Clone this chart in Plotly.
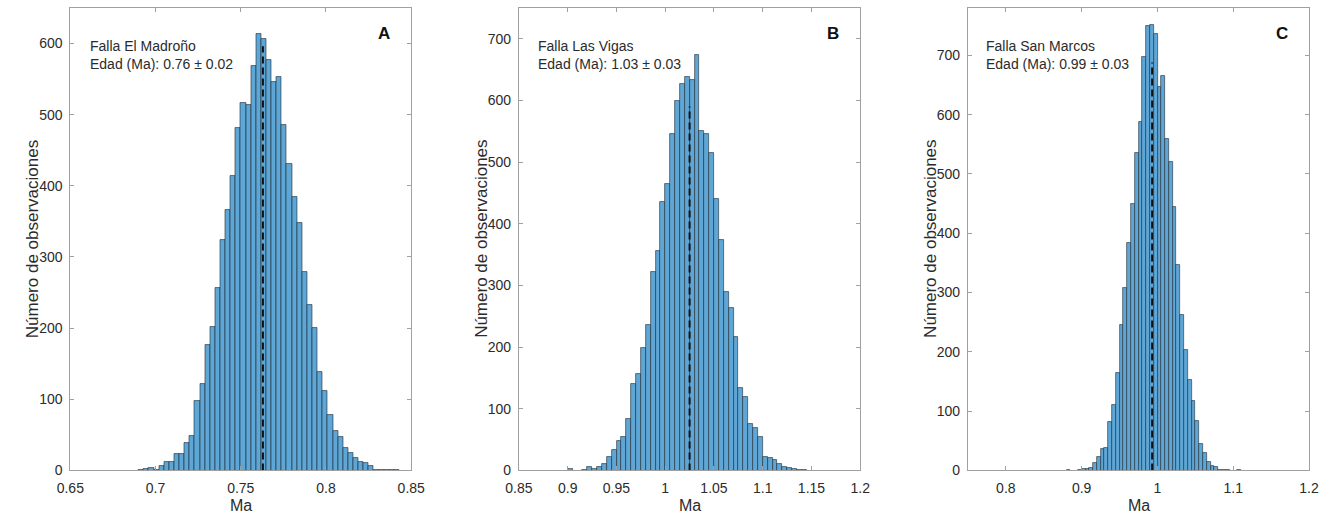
import plotly.graph_objects as go

W, H = 1340, 522

# ---------------- data ----------------
panel_letters = ["A", "B", "C"]
fault_names = ["Falla El Madroño", "Falla Las Vigas", "Falla San Marcos"]
age_labels = ["Edad (Ma): 0.76 ± 0.02", "Edad (Ma): 1.03 ± 0.03", "Edad (Ma): 0.99 ± 0.03"]

a_bin_start = 0.690
a_bin_width = 0.003
a_counts = [1, 2, 3, 1, 6, 12, 12, 23, 23, 39, 49, 97, 121, 176, 201, 257, 324, 366, 414,
            482, 517, 513, 569, 614, 607, 577, 546, 553, 486, 431, 385, 348, 279, 233, 200,
            138, 112, 78, 56, 47, 31, 25, 17, 12, 11, 6, 1, 1, 1, 1, 1]
a_median = 0.763
a_line_top = 596

b_bin_start = 0.900
b_bin_width = 0.005
b_counts = [2, 0, 0, 1, 5, 3, 6, 10, 22, 34, 48, 54, 84, 140, 157, 198, 236, 322, 356, 435,
            464, 545, 600, 626, 638, 633, 674, 550, 545, 515, 441, 374, 290, 263, 216, 133,
            119, 76, 69, 54, 22, 21, 17, 11, 5, 4, 3, 1, 1]
b_median = 1.025
b_line_top = 590

c_bin_start = 0.880
c_bin_width = 0.005
c_counts = [1, 0, 0, 1, 2, 3, 4, 13, 22, 36, 38, 81, 110, 164, 245, 307, 383, 450, 535, 587,
            697, 750, 751, 737, 647, 666, 559, 520, 445, 346, 262, 203, 152, 117, 83, 45, 30,
            15, 8, 6, 1, 1, 1, 0, 0, 1]
c_median = 0.993
c_line_top = 688

x_ranges = [[0.65, 0.85], [0.85, 1.2], [0.75, 1.2]]
y_ranges = [[0, 650], [0, 750], [0, 780]]
x_tickvals = [[0.65, 0.7, 0.75, 0.8, 0.85],
              [0.85, 0.9, 0.95, 1.0, 1.05, 1.1, 1.15, 1.2],
              [0.8, 0.9, 1.0, 1.1, 1.2]]
x_ticktext = [["0.65", "0.7", "0.75", "0.8", "0.85"],
              ["0.85", "0.9", "0.95", "1", "1.05", "1.1", "1.15", "1.2"],
              ["0.8", "0.9", "1", "1.1", "1.2"]]
y_tickvals = [[0, 100, 200, 300, 400, 500, 600],
              [0, 100, 200, 300, 400, 500, 600, 700],
              [0, 100, 200, 300, 400, 500, 600, 700]]

x_title = "Ma"
y_title = "Número de observaciones"

# ---------------- style / layout ----------------
FONT = "Liberation Sans, Arial, Helvetica, sans-serif"
TXT = "#2b2b2b"
AXC = "#a0a0a0"
BAR = "#5EA6D6"

box_px = [(57.5, 405.7), (515.7, 864.3), (974.3, 1322.7)]
box_top, box_bot = 8.0, 477.7

def px_x(p):
    return p / W

def px_y(p):
    return 1 - p / H

panels = [
    (a_bin_start, a_bin_width, a_counts, a_median, a_line_top),
    (b_bin_start, b_bin_width, b_counts, b_median, b_line_top),
    (c_bin_start, c_bin_width, c_counts, c_median, c_line_top),
]

fig = go.Figure()
annotations = []

for i, (start, width, counts, med, top) in enumerate(panels):
    suf = "" if i == 0 else str(i + 1)
    centers = [start + width * (k + 0.5) for k in range(len(counts))]
    fig.add_trace(go.Bar(
        x=centers, y=counts, width=[width] * len(counts),
        marker=dict(color=BAR, line=dict(color="#1e2a33", width=0.6)),
        xaxis="x" + suf, yaxis="y" + suf, showlegend=False, hoverinfo="x+y",
    ))
    fig.add_trace(go.Scatter(
        x=[med, med], y=[0, top], mode="lines",
        line=dict(color="#111111", width=2, dash="7px,4px"),
        xaxis="x" + suf, yaxis="y" + suf, showlegend=False, hoverinfo="skip",
    ))

    x0, x1 = box_px[i]
    common = dict(
        showline=True, linecolor=AXC, linewidth=1, mirror="ticks",
        ticks="inside", ticklen=4, tickcolor=AXC, tickwidth=1,
        showgrid=False, zeroline=False,
        tickfont=dict(family=FONT, size=14, color=TXT),
        fixedrange=True,
    )
    fig.update_layout(**{
        "xaxis" + suf: dict(
            domain=[px_x(x0), px_x(x1)], range=x_ranges[i],
            tickmode="array", tickvals=x_tickvals[i], ticktext=x_ticktext[i],
            anchor="y" + suf, ticklabelstandoff=5, **common),
        "yaxis" + suf: dict(
            domain=[px_y(box_bot), px_y(box_top)], range=y_ranges[i],
            tickmode="array", tickvals=y_tickvals[i],
            anchor="x" + suf, ticklabelstandoff=4, **common),
    })

    # axis titles
    annotations.append(dict(
        text=x_title, x=px_x((x0 + x1) / 2), y=px_y(513), xref="paper", yref="paper",
        showarrow=False, xanchor="center", yanchor="middle",
        font=dict(family=FONT, size=16, color=TXT)))
    annotations.append(dict(
        text=y_title, x=px_x(x0 - 39), y=px_y((box_top + box_bot) / 2),
        xref="paper", yref="paper", textangle=-90,
        showarrow=False, xanchor="center", yanchor="middle",
        font=dict(family=FONT, size=17, color=TXT)))
    # in-panel texts
    text_left = [76, 533, 991][i]
    annotations.append(dict(
        text=fault_names[i], x=px_x(text_left), y=px_y(47), xref="paper", yref="paper",
        showarrow=False, xanchor="left", yanchor="middle",
        font=dict(family=FONT, size=14, color=TXT)))
    annotations.append(dict(
        text=age_labels[i], x=px_x(text_left), y=px_y(65.5), xref="paper", yref="paper",
        showarrow=False, xanchor="left", yanchor="middle",
        font=dict(family=FONT, size=14, color=TXT)))
    letter_x = [378, 836, 1295][i]
    annotations.append(dict(
        text="<b>" + panel_letters[i] + "</b>", x=px_x(letter_x), y=px_y(34),
        xref="paper", yref="paper", showarrow=False,
        xanchor="center", yanchor="middle",
        font=dict(family=FONT, size=17, color="#111111")))

fig.update_layout(
    width=W, height=H,
    margin=dict(l=0, r=0, t=0, b=0),
    paper_bgcolor="white", plot_bgcolor="white",
    bargap=0, barmode="overlay",
    annotations=annotations,
    font=dict(family=FONT, color=TXT),
)

fig.write_html(
    "out.html",
    config={"displayModeBar": False},
    post_script="document.body.style.margin='0';document.documentElement.style.overflow='hidden';",
)
